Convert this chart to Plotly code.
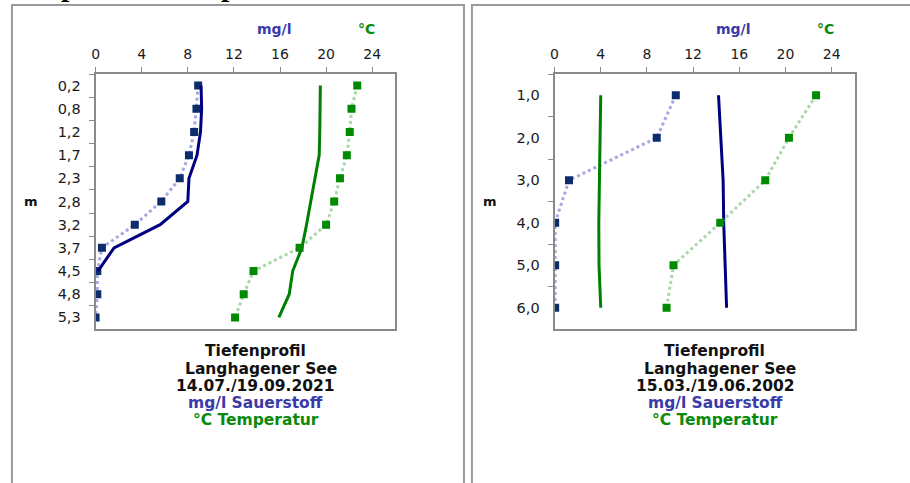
import plotly.graph_objects as go

# ---------------- data ----------------
depth_left = ["0,2", "0,8", "1,2", "1,7", "2,3", "2,8", "3,2", "3,7", "4,5", "4,8", "5,3"]
oxy_left_a = [8.9, 8.75, 8.55, 8.1, 7.3, 5.7, 3.4, 0.55, 0.15, 0.15, 0.0]      # 14.07. markers
oxy_left_b = [9.15, 9.2, 9.1, 8.8, 8.1, 8.0, 5.6, 1.6, 0.2, None, None]       # 19.09. solid line
temp_left_a = [22.7, 22.2, 22.05, 21.8, 21.2, 20.7, 20.0, 17.7, 13.7, 12.85, 12.1]
temp_left_b = [19.5, 19.5, 19.45, 19.4, 19.05, 18.7, 18.3, 17.9, 17.1, 16.8, 15.9]

depth_right = ["1,0", "2,0", "3,0", "4,0", "5,0", "6,0"]
oxy_right_a = [10.5, 8.85, 1.25, 0.05, 0.05, 0.05]
oxy_right_b = [14.2, 14.4, 14.6, 14.65, 14.8, 14.9]
temp_right_a = [22.65, 20.3, 18.25, 14.35, 10.3, 9.7]
temp_right_b = [4.0, 3.95, 3.85, 3.83, 3.85, 4.0]

x_ticks = [0, 4, 8, 12, 16, 20, 24]

caption_left = ["Tiefenprofil", "Langhagener See", "14.07./19.09.2021", "mg/l Sauerstoff", "°C Temperatur"]
caption_right = ["Tiefenprofil", "Langhagener See", "15.03./19.06.2002", "mg/l Sauerstoff", "°C Temperatur"]

# ---------------- style ----------------
W, H = 910, 483
NAVY = "#000080"
NAVY_MK = "#0c2c6c"
LIGHT_BLUE = "#a8a8e0"
GREEN = "#008000"
GREEN_MK = "#008a00"
LIGHT_GREEN = "#a8d8a8"
BLUE_TXT = "#3a3aa8"
GREEN_TXT = "#0a8a0a"
GRID = "#8a8a8a"
FONT = "DejaVu Sans"


def px(x):
    return x / W


def py(y):
    return 1 - y / H


fig = go.Figure()


def add_panel(xa, ya, depths, oa, ob, ta, tb):
    fig.add_trace(go.Scatter(x=oa, y=depths, xaxis=xa, yaxis=ya, mode="lines+markers",
                             line=dict(color=LIGHT_BLUE, width=3, dash="dot"),
                             marker=dict(symbol="square", size=8, color=NAVY_MK),
                             showlegend=False, hoverinfo="x+y"))
    fig.add_trace(go.Scatter(x=ob, y=depths, xaxis=xa, yaxis=ya, mode="lines",
                             line=dict(color=NAVY, width=3), connectgaps=False,
                             showlegend=False))
    fig.add_trace(go.Scatter(x=ta, y=depths, xaxis=xa, yaxis=ya, mode="lines+markers",
                             line=dict(color=LIGHT_GREEN, width=3, dash="dot"),
                             marker=dict(symbol="square", size=8, color=GREEN_MK),
                             showlegend=False))
    fig.add_trace(go.Scatter(x=tb, y=depths, xaxis=xa, yaxis=ya, mode="lines",
                             line=dict(color=GREEN, width=3),
                             showlegend=False))


add_panel("x", "y", depth_left, oxy_left_a, oxy_left_b, temp_left_a, temp_left_b)
add_panel("x2", "y2", depth_right, oxy_right_a, oxy_right_b, temp_right_a, temp_right_b)

xcommon = dict(range=[0, 26], side="top", tickvals=x_ticks, ticktext=[str(v) for v in x_ticks],
               ticks="outside", ticklen=5, tickcolor=GRID, tickwidth=1,
               showline=True, mirror=True, linecolor=GRID, linewidth=2,
               showgrid=False, zeroline=False, ticklabelstandoff=2,
               tickfont=dict(family=FONT, size=14, color="#1a1a1a"), fixedrange=True)
ycommon = dict(type="category", ticks="outside", ticklen=5, tickcolor=GRID, tickwidth=1,
               tickson="boundaries", showline=True, mirror=True, linecolor=GRID, linewidth=2,
               showgrid=False, zeroline=False, ticklabelstandoff=10,
               tickfont=dict(family=FONT, size=14.5, color="#1a1a1a"), fixedrange=True)

y_top, y_bot = 74, 329
fig.update_layout(
    width=W, height=H, autosize=False,
    margin=dict(l=0, r=0, t=0, b=0),
    paper_bgcolor="white", plot_bgcolor="white",
    xaxis=dict(domain=[px(92), px(393)], anchor="y", **xcommon),
    yaxis=dict(domain=[py(y_bot), py(y_top)], anchor="x",
               range=[len(depth_left) - 0.5, -0.5], **ycommon),
    xaxis2=dict(domain=[px(553), px(854.5)], anchor="y2", **xcommon),
    yaxis2=dict(domain=[py(y_bot), py(y_top)], anchor="x2",
                range=[len(depth_right) - 0.5, -0.5], **ycommon),
)

ann = []


def txt(x, y, s, color="#111111", size=14, bold=True, family=FONT):
    ann.append(dict(x=px(x), y=py(y), xref="paper", yref="paper", text=("<b>%s</b>" % s) if bold else s,
                    showarrow=False, xanchor="center", yanchor="middle",
                    font=dict(family=family, size=size, color=color)))


# unit labels
txt(272, 29, "mg/l", BLUE_TXT)
txt(364, 29, "°C", GREEN_TXT)
txt(733, 29, "mg/l", BLUE_TXT)
txt(825.5, 29, "°C", GREEN_TXT)
txt(27, 201, "m", "#111111", 13)
txt(488, 201, "m", "#111111", 13)

cap_y = [350.7, 368.5, 385.5, 402.5, 419.5]
cap_col = ["#111111", "#111111", "#111111", BLUE_TXT, GREEN_TXT]
cap_x_left = [252.5, 258, 252.5, 253, 253.5]
cap_x_right = [713.3, 719.5, 714.7, 714.7, 714.5]
for i in range(5):
    txt(cap_x_left[i], cap_y[i], caption_left[i], cap_col[i], 15.5)
    txt(cap_x_right[i], cap_y[i], caption_right[i], cap_col[i], 15.5)

# cut-off heading glyphs at very top (only their descenders show)
for xx in [66, 226]:
    ann.append(dict(x=px(xx), y=py(3.5), xref="paper", yref="paper", text="<b>p</b>",
                    showarrow=False, xanchor="center", yanchor="bottom",
                    font=dict(family="Liberation Serif", size=30, color="#000000")))

fig.update_layout(annotations=ann)

# page frames
shapes = [
    dict(type="rect", xref="paper", yref="paper", x0=px(8), x1=px(462), y0=py(H + 10), y1=py(5),
         line=dict(color="#9a9a9a", width=2), layer="below"),
    dict(type="rect", xref="paper", yref="paper", x0=px(470), x1=px(W + 10), y0=py(H + 10), y1=py(5),
         line=dict(color="#9a9a9a", width=2), layer="below"),
]
fig.update_layout(shapes=shapes)

fig.write_html("out.html", config={"displayModeBar": False},
               post_script="document.body.style.margin='0px';")
